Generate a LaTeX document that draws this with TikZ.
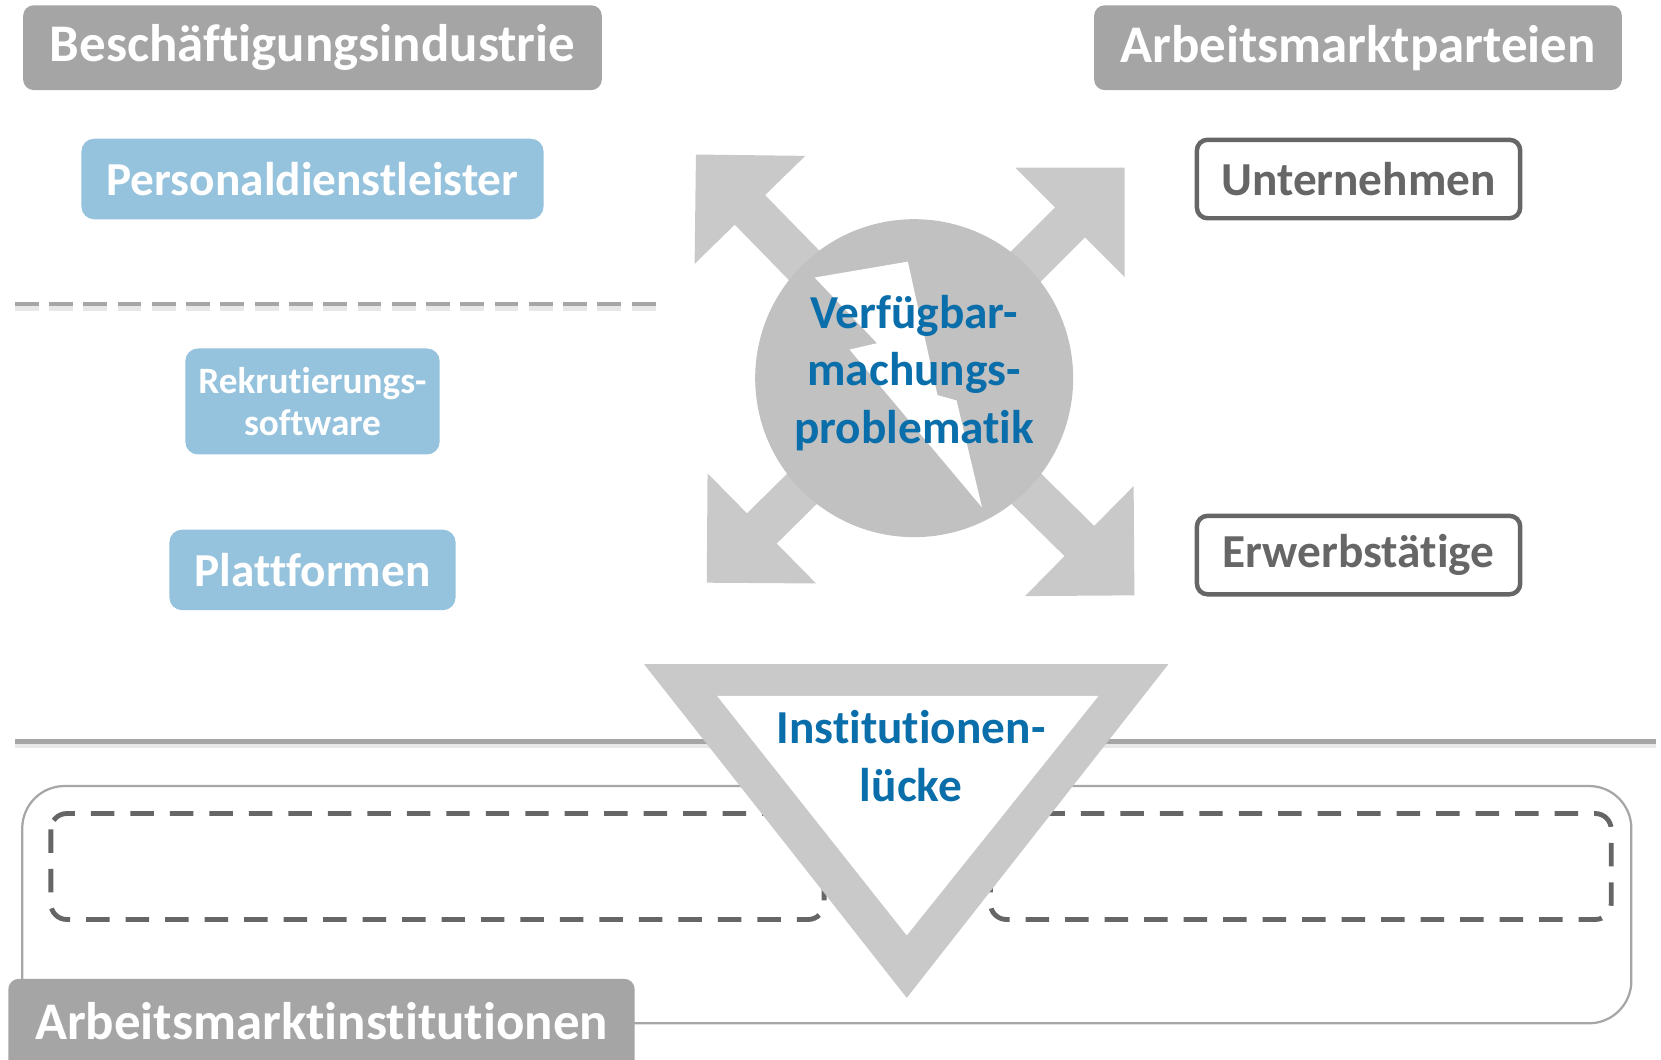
\documentclass[tikz,border=0pt]{standalone}
\usepackage{fontspec}
\setmainfont{Carlito}[Ligatures=NoCommon]

\definecolor{hdrgray}{HTML}{A5A5A5}
\definecolor{linegray}{HTML}{A6A6A6}
\definecolor{boxgray}{HTML}{666666}
\definecolor{lightblue}{HTML}{95C2DC}
\definecolor{arrowgray}{HTML}{C9C9C9}
\definecolor{circgray}{HTML}{C1C1C1}
\definecolor{txtblue}{RGB}{10,110,170}

\begin{document}
\begin{tikzpicture}[x=0.01cm,y=-0.01cm]
        \useasboundingbox (0,0) rectangle (1568,1000);

        % lines with a soft shadow
        \draw[gray!18,line width=2pt] (14,703) -- (1563,703);
        \draw[linegray,line width=1.2pt] (14,700) -- (1563,700);
        \draw[gray!18,line width=1.8pt,dash pattern=on 6.4pt off 2.8pt] (14,290) -- (620,290);
        \draw[linegray,line width=1.3pt,dash pattern=on 6.4pt off 2.8pt] (14,287) -- (620,287);

        % lower frame
        \draw[linegray,line width=0.6pt,rounded corners=0.4cm] (21,742) rectangle (1540,966);
        \begin{scope}[boxgray,line width=1.3pt,dash pattern=on 6.3pt off 4.3pt,rounded corners=0.15cm]
          \draw (48,768) rectangle (778,868);
          \draw (935,768) rectangle (1521,868);
        \end{scope}

        % triangle
        \fill[arrowgray] (608,627) -- (1103,627) -- (856,942) -- cycle;
        \fill[white] (677,657) -- (1037,657) -- (856,883) -- cycle;

        % arrows, circle and bolt
        \coordinate (mid) at (863,357);
        \foreach \ang/\len in {134.3/295,45/281,224.6/275,-44.6/292}
          \fill[arrowgray,shift={(mid)},x=0.01cm,y=0.01cm,rotate=\ang]
            (0,-20) -- (\len-73,-20) -- (\len-73,-73) -- (\len,0)
            -- (\len-73,73) -- (\len-73,20) -- (0,20) -- cycle;
        \node[circle,fill=circgray,minimum size=3cm,inner sep=0pt] (prob) at (mid) {};
        \fill[white] (769,262) -- (857,247) -- (885,373) -- (903,378)
          -- (927,479) -- (802,330) -- (828,324) -- cycle;

        \begin{scope}[every node/.style={text=txtblue,align=center,inner sep=0pt,
            font=\fontsize{12.7}{15.5}\selectfont\bfseries}]
          \node (probtxt) at (863,352) {Verfügbar-\\machungs-\\problematik};
          \node (gap) at (860,714) {Institutionen-\\lücke};
        \end{scope}

        % headers
        \begin{scope}[every node/.style={rounded corners=0.1cm,fill=hdrgray,text=white,inner sep=0pt,
            minimum height=0.8cm,font=\fontsize{14.2}{17}\selectfont\bfseries}]
          \node[minimum width=5.46cm] (ind) at (295,45) {Beschäftigungsindustrie};
          \node[minimum width=4.98cm] (part) at (1282,45) {Arbeitsmarktparteien};
          \node[minimum width=5.91cm,minimum height=0.96cm] (inst) at (303.5,972)
            {\raisebox{0.16cm}{Arbeitsmarktinstitutionen}};
        \end{scope}

        % actors
        \begin{scope}[every node/.style={rounded corners=0.12cm,fill=lightblue,text=white,inner sep=0pt,
            minimum height=0.76cm,font=\fontsize{12.7}{15.5}\selectfont\bfseries}]
          \node[minimum width=4.36cm] (pdl) at (295,169) {Personaldienstleister};
          \node[minimum width=2.4cm,minimum height=1cm,align=center,
            font=\fontsize{10}{11.1}\selectfont\bfseries] (rek) at (295,379) {Rekrutierungs-\\software};
          \node[minimum width=2.7cm] (platt) at (295,538) {Plattformen};
        \end{scope}

        \begin{scope}[every node/.style={rounded corners=0.1cm,draw=boxgray,line width=1.2pt,fill=white,
            text=boxgray,inner sep=0pt,minimum width=3.05cm,minimum height=0.74cm,
            font=\fontsize{12.7}{15.5}\selectfont\bfseries}]
          \node (unt) at (1282.5,169) {Unternehmen};
          \node (erw) at (1282.5,524) {Erwerbstätige};
        \end{scope}

      \end{tikzpicture}
\end{document}
